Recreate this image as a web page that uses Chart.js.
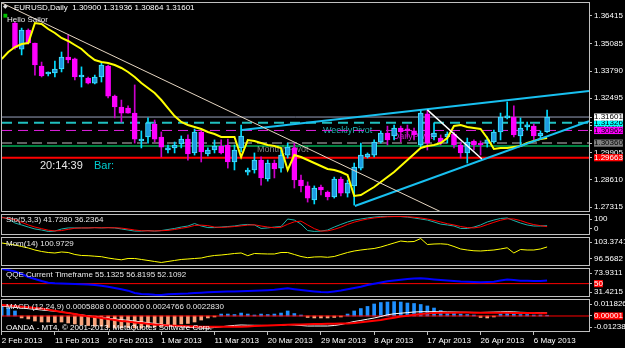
<!DOCTYPE html>
<html>
<head>
<meta charset="utf-8">
<script src="https://cdn.jsdelivr.net/npm/chart.js@4.4.1/dist/chart.umd.min.js"></script>
<style>
  html, body { margin: 0; padding: 0; background: #000; }
  #wrap { position: relative; width: 625px; height: 348px; background: #000; overflow: hidden; }
  #wrap canvas { position: absolute; left: 0; }
</style>
</head>
<body>
<div id="wrap">
  <canvas id="cMain" width="625" height="214" style="top:0px"></canvas>
  <canvas id="cSto" width="625" height="23" style="top:213px"></canvas>
  <canvas id="cMom" width="625" height="31" style="top:236px"></canvas>
  <canvas id="cQqe" width="625" height="31" style="top:267px"></canvas>
  <canvas id="cMacd" width="625" height="50" style="top:298px"></canvas>
</div>
<script>
// date axis (one tick every 8 daily bars)
const dateLabels = ['2 Feb 2013', '11 Feb 2013', '20 Feb 2013', '1 Mar 2013', '11 Mar 2013', '20 Mar 2013',
  '29 Mar 2013', '8 Apr 2013', '17 Apr 2013', '26 Apr 2013', '6 May 2013'];
const dateTickIdx = [0, 8, 16, 24, 32, 40, 48, 56, 64, 72, 80];

// EURUSD daily candles, bar 0 .. 82
const opens = [null, null, 1.3608, 1.3484, 1.3575, 1.3513, 1.3403, 1.3365, 1.3370, 1.3389,
  1.3446, 1.3437, 1.3351, 1.3346, 1.3322, 1.3351, 1.3403, 1.3260, 1.3208, 1.3203,
  1.3179, 1.3046, 1.3065, 1.3127, 1.3065, 1.3003, 1.3013, 1.3032, 1.3055, 1.2989,
  1.3089, 1.2984, 1.3003, 1.3022, 1.3027, 1.2946, 1.3013, 1.2898, 1.2908, 1.2955,
  1.2865, 1.2941, 1.2917, 1.2979, 1.3013, 1.2860, 1.2832, 1.2765, 1.2827, 1.2803,
  1.2779, 1.2865, 1.2798, 1.2832, 1.2917, 1.2970, 1.2979, 1.3041, 1.3084, 1.3070,
  1.3108, 1.3103, 1.3094, 1.3027, 1.3175, 1.3065, 1.3060, 1.3065, 1.3079, 1.3027,
  1.2989, 1.3046, 1.3036, 1.3036, 1.3041, 1.3089, 1.3156, 1.3160, 1.3070, 1.3113,
  1.3117, 1.3070, 1.30900];
const highs = [null, null, 1.3613, 1.3584, 1.3580, 1.3513, 1.3422, 1.3375, 1.3427, 1.3470,
  1.3551, 1.3441, 1.3399, 1.3351, 1.3360, 1.3418, 1.3408, 1.3265, 1.3241, 1.3213,
  1.3313, 1.3094, 1.3156, 1.3146, 1.3089, 1.3027, 1.3041, 1.3070, 1.3075, 1.3103,
  1.3094, 1.3013, 1.3051, 1.3051, 1.3055, 1.3027, 1.3122, 1.2917, 1.2989, 1.2970,
  1.2955, 1.2955, 1.3003, 1.3036, 1.3036, 1.2884, 1.2851, 1.2832, 1.2836, 1.2808,
  1.2874, 1.2874, 1.2860, 1.2941, 1.3036, 1.2989, 1.3051, 1.3094, 1.3117, 1.3122,
  1.3117, 1.3122, 1.3108, 1.3194, 1.3194, 1.3132, 1.3075, 1.3089, 1.3089, 1.3041,
  1.3060, 1.3051, 1.3046, 1.3065, 1.3098, 1.3179, 1.3232, 1.3213, 1.3156, 1.3136,
  1.3127, 1.3094, 1.31936];
const lows = [null, null, 1.3484, 1.3456, 1.3508, 1.3360, 1.3351, 1.3356, 1.3351, 1.3375,
  1.3418, 1.3337, 1.3303, 1.3318, 1.3318, 1.3327, 1.3251, 1.3156, 1.3136, 1.3179,
  1.3036, 1.3013, 1.3036, 1.3041, 1.2970, 1.2989, 1.2989, 1.3013, 1.2955, 1.2979,
  1.2946, 1.2975, 1.2989, 1.2984, 1.2917, 1.2908, 1.2994, 1.2884, 1.2893, 1.2836,
  1.2855, 1.2870, 1.2898, 1.2965, 1.2822, 1.2803, 1.2755, 1.2746, 1.2789, 1.2765,
  1.2774, 1.2784, 1.2779, 1.2741, 1.2908, 1.2965, 1.2970, 1.3036, 1.3027, 1.3051,
  1.3041, 1.3065, 1.3051, 1.3017, 1.3003, 1.3051, 1.3027, 1.3036, 1.3013, 1.2965,
  1.2941, 1.3003, 1.2979, 1.3017, 1.3036, 1.3051, 1.3151, 1.3065, 1.3027, 1.3098,
  1.3051, 1.3060, 1.30864];
const closes = [null, null, 1.3489, 1.3575, 1.3513, 1.3408, 1.3356, 1.3370, 1.3389, 1.3446,
  1.3432, 1.3351, 1.3356, 1.3322, 1.3351, 1.3408, 1.3260, 1.3208, 1.3179, 1.3179,
  1.3055, 1.3055, 1.3132, 1.3055, 1.3017, 1.3013, 1.3027, 1.3055, 1.2984, 1.3089,
  1.2994, 1.3003, 1.3022, 1.2989, 1.2946, 1.3003, 1.3070, 1.2908, 1.2955, 1.2870,
  1.2941, 1.2913, 1.2979, 1.3017, 1.2860, 1.2832, 1.2774, 1.2822, 1.2813, 1.2779,
  1.2865, 1.2798, 1.2846, 1.2922, 1.2979, 1.2984, 1.3041, 1.3084, 1.3051, 1.3108,
  1.3089, 1.3094, 1.3075, 1.3179, 1.3036, 1.3084, 1.3041, 1.3079, 1.3027, 1.2989,
  1.3041, 1.3027, 1.3027, 1.3051, 1.3089, 1.3160, 1.3160, 1.3075, 1.3108, 1.3122,
  1.3070, 1.3084, 1.31601];

// yellow moving average
const maLine = [1.34366, 1.34700, 1.34938, 1.35081, 1.35128, 1.36081, 1.36034, 1.35795, 1.35605, 1.35367,
  1.35224, 1.35033, 1.34842, 1.34557, 1.34318, 1.34223, 1.34176, 1.34080, 1.33937, 1.33747,
  1.33509, 1.33223, 1.32984, 1.32746, 1.32413, 1.32031, 1.31650, 1.31364, 1.31222, 1.31126,
  1.31031, 1.30888, 1.30793, 1.30650, 1.30650, 1.30650, 1.29697, 1.30507, 1.30459, 1.30364,
  1.30269, 1.30221, 1.30126, 1.29078, 1.29793, 1.29697, 1.29554, 1.29411, 1.29268, 1.29125,
  1.29078, 1.28982, 1.28840, 1.27839, 1.27887, 1.28077, 1.28268, 1.28506, 1.28744, 1.28982,
  1.29268, 1.29554, 1.29840, 1.30126, 1.30221, 1.30269, 1.30364, 1.30602, 1.31174, 1.31222,
  1.31126, 1.31079, 1.31031, 1.30602, 1.30078, 1.30126, 1.30126, 1.30173, 1.30221, 1.30364,
  1.30459, 1.30555, 1.30602];

// horizontal levels: bid, weekly pivot, daily pivot, monthly pivot, green, red
const levelPrices = [1.31601, 1.31326, 1.30962, 1.30360, 1.30221, 1.29663];
// price scale ticks and the boxed level labels
const priceTicks = [1.36415, 1.35085, 1.33790, 1.32495, 1.31200, 1.29905, 1.28610, 1.27315];
const boxedPrices = [1.29663, 1.30360, 1.30962, 1.31326, 1.31601];

// trend lines as [bar, price] pairs
const trendDown = [[0, 1.3704], [66, 1.2709]];
const trendPullback = [[64, 1.3194], [72.2, 1.2960]];
const channelTop = [[36.1, 1.3098], [88.3, 1.3284]];
const channelBottom = [[53.1, 1.2736], [88.3, 1.3140]];

// Stochastic (5,3,3)
const stochMain = [91, 80, 57, 46, 34, 23, 17, 9, 11, 23, 29, 29, 29, 29, 31, 29, 31, 29, 23, 17,
  11, 11, 14, 11, 14, 20, 26, 34, 40, 54, 40, 31, 31, 34, 37, 40, 46, 49, 46, 26,
  29, 34, 37, 80, 74, 51, 14, 9, 11, 17, 34, 49, 63, 74, 80, 86, 91, 94, 94, 94,
  94, 91, 86, 80, 74, 63, 51, 46, 40, 26, 26, 34, 46, 63, 74, 83, 86, 71, 57, 46,
  40, 40, 41.728];
const stochSignal = [88, 84, 76, 61, 46, 34, 25, 16, 12, 14, 21, 27, 29, 29, 30, 30, 30, 30, 28, 23,
  17, 13, 12, 12, 13, 15, 20, 27, 33, 43, 45, 42, 34, 32, 34, 37, 41, 45, 47, 40,
  34, 30, 33, 50, 64, 68, 46, 25, 11, 12, 21, 33, 49, 62, 72, 80, 86, 90, 93, 94,
  94, 93, 90, 86, 80, 72, 63, 53, 46, 37, 31, 29, 35, 48, 61, 73, 81, 80, 71, 58,
  48, 42, 36.2364];
const stochAxisLabels = ['100', '0'];

// Momentum (14)
const momentum = [102.10, 101.81, 101.53, 101.10, 100.68, 100.11, 99.69, 99.40, 99.26, 99.55,
  99.40, 98.84, 98.55, 98.50, 98.35, 98.21, 97.84, 97.56, 97.33, 97.70,
  97.70, 97.42, 97.14, 96.85, 96.57, 96.85, 97.14, 97.42, 97.56, 97.70,
  97.84, 98.27, 98.55, 98.69, 98.89, 99.12, 99.26, 98.50, 99.12, 99.04,
  98.98, 98.98, 99.40, 99.40, 98.84, 98.27, 97.93, 98.13, 98.18, 98.04,
  98.27, 98.84, 99.40, 99.83, 100.11, 100.34, 100.54, 100.96, 101.53, 102.10,
  102.66, 102.44, 102.52, 103.37, 101.67, 101.81, 101.87, 101.73, 101.11, 100.40,
  100.11, 99.89, 99.83, 99.97, 100.11, 100.40, 100.74, 99.26, 100.25, 100.11,
  100.11, 100.40, 100.9729];
const momAxisLabels = ['103.3741', '96.5682'];

// QQE
const qqe = [73.9, 72.3, 69.8, 65.8, 60.8, 57.6, 54.3, 51.5, 50.7, 50.2,
  49.7, 49.4, 48.9, 48.4, 47.8, 46.5, 45.0, 43.0, 40.7, 38.5,
  34.7, 32.9, 32.7, 31.9, 31.4, 32.7, 33.0, 33.4, 33.9, 34.7,
  35.2, 35.8, 36.3, 36.6, 37.0, 37.3, 37.5, 37.9, 38.3, 38.8,
  39.3, 39.9, 41.2, 42.4, 40.9, 39.6, 38.3, 37.2, 36.3, 35.8,
  37.2, 38.8, 40.8, 42.9, 45.0, 47.8, 49.9, 51.9, 53.8, 55.0,
  56.3, 57.6, 58.2, 58.7, 57.9, 56.9, 55.9, 55.0, 54.3, 53.5,
  53.0, 52.7, 52.2, 52.7, 53.0, 55.1, 56.9, 55.9, 54.8, 54.6,
  54.3, 54.3, 55.1325];
const qqeLevel = 50;
const qqeAxisLabels = ['73.9311', '50', '31.4215'];

// MACD (12,24,9)
const macdHist = [0.0090, 0.0065, 0.0041, -0.0016, -0.0024, -0.0041, -0.0049, -0.0049, -0.0053, -0.0049,
  -0.0057, -0.0065, -0.0073, -0.0078, -0.0082, -0.0082, -0.0094, -0.0098, -0.0098, -0.0094,
  -0.0098, -0.0098, -0.0090, -0.0090, -0.0086, -0.0078, -0.0073, -0.0065, -0.0061, -0.0049,
  -0.0033, -0.0016, -0.0008, 0.0016, 0.0016, 0.0012, 0.0024, 0.0016, 0.0008, 0.0016,
  0.0012, 0.0016, 0.0024, 0.0041, 0.0020, 0.0008, -0.0012, -0.0016, -0.0016, -0.0016,
  -0.0012, -0.0008, 0.0016, 0.0041, 0.0061, 0.0078, 0.0098, 0.0110, 0.0114, 0.0117,
  0.0114, 0.0106, 0.0102, 0.0094, 0.0082, 0.0065, 0.0045, 0.0029, 0.0024, 0.0016,
  0.0012, 0.0008, -0.0012, -0.0016, -0.0008, 0.0016, 0.0024, 0.0016, 0.0012, 0.0012,
  0.0008, 0.0008, 0.00058];
const macdMain = [0.00816, 0.00759, 0.00702, 0.00653, 0.00596, 0.00547, 0.00490, 0.00441, 0.00392, 0.00335,
  0.00253, 0.00163, 0.00090, 0.00016, -0.00049, -0.00122, -0.00180, -0.00245, -0.00302, -0.00359,
  -0.00416, -0.00481, -0.00547, -0.00612, -0.00677, -0.00751, -0.00816, -0.00881, -0.00914, -0.00947,
  -0.00979, -0.01004, -0.00938, -0.00881, -0.00816, -0.00767, -0.00734, -0.00751, -0.00759, -0.00767,
  -0.00775, -0.00775, -0.00767, -0.00694, -0.00734, -0.00775, -0.00816, -0.00816, -0.00816, -0.00816,
  -0.00775, -0.00694, -0.00571, -0.00449, -0.00359, -0.00261, -0.00163, -0.00041, 0.00098, 0.00180,
  0.00228, 0.00277, 0.00326, 0.00351, 0.00351, 0.00351, 0.00351, 0.00335, 0.00326, 0.00310,
  0.00302, 0.00294, 0.00286, 0.00302, 0.00318, 0.00335, 0.00351, 0.00335, 0.00302, 0.00286,
  0.00269, 0.00253, 0.0024766];
const macdSignal = [0.00898, 0.00849, 0.00808, 0.00759, 0.00710, 0.00661, 0.00604, 0.00514, 0.00424, 0.00335,
  0.00245, 0.00155, 0.00065, -0.00016, -0.00090, -0.00163, -0.00245, -0.00326, -0.00400, -0.00457,
  -0.00522, -0.00579, -0.00628, -0.00685, -0.00734, -0.00767, -0.00792, -0.00816, -0.00840, -0.00857,
  -0.00873, -0.00873, -0.00873, -0.00873, -0.00873, -0.00873, -0.00873, -0.00849, -0.00824, -0.00800,
  -0.00775, -0.00751, -0.00734, -0.00718, -0.00702, -0.00694, -0.00677, -0.00661, -0.00653, -0.00636,
  -0.00628, -0.00612, -0.00604, -0.00579, -0.00514, -0.00449, -0.00384, -0.00318, -0.00228, -0.00139,
  -0.00049, 0.00024, 0.00098, 0.00163, 0.00204, 0.00237, 0.00269, 0.0027, 0.0027, 0.0028,
  0.0028, 0.0027, 0.0027, 0.0026, 0.0026, 0.0026, 0.0026, 0.0025, 0.0025, 0.0024,
  0.0024, 0.0023, 0.002283];
const macdLevel = 0.00001;
const macdAxisLabels = ['0.011826', '0.00001', '-0.012388'];

// ---------------------------------------------------------------
Chart.defaults.animation = false;
Chart.defaults.font.family = '"Liberation Sans", Arial, sans-serif';
Chart.defaults.font.size = 8;
Chart.defaults.color = '#ffffff';
Chart.defaults.elements.point.radius = 0;
Chart.defaults.elements.point.hitRadius = 0;
Chart.defaults.elements.line.tension = 0;

const X_MIN = 0.05, X_MAX = 88.3;
const FONT = '"Liberation Sans", Arial, sans-serif';

const series = arr => arr.map((v, i) => ({ x: i, y: v }));
const seg = pts => pts.map(p => ({ x: p[0], y: p[1] }));
const hLine = v => [{ x: X_MIN, y: v }, { x: X_MAX, y: v }];
const isBull = i => closes[i] >= opens[i];

// text overlay (labels drawn by MetaTrader objects), kept out of the options resolver
function paintTexts(chart, items) {
  const { ctx, chartArea: a, scales } = chart;
  items.forEach(t => {
    const x = t.at ? scales.x.getPixelForValue(t.at[0]) : a.left + t.dx;
    const y = t.at ? scales.y.getPixelForValue(t.at[1]) : a.top + t.dy;
    ctx.save();
    ctx.font = t.font || ('8px ' + FONT);
    ctx.fillStyle = t.color || '#ffffff';
    ctx.textAlign = 'left';
    ctx.textBaseline = 'middle';
    ctx.fillText(t.text, x, y);
    ctx.restore();
  });
}
function textLayer(items) {
  return {
    id: 'mtText',
    beforeDatasetsDraw(chart) { paintTexts(chart, items.filter(t => t.back)); },
    afterDatasetsDraw(chart) { paintTexts(chart, items.filter(t => !t.back)); }
  };
}
const frame = {
  id: 'frame',
  afterDraw(chart) {
    const { ctx, chartArea: a } = chart;
    ctx.save();
    ctx.strokeStyle = '#c0c0c0';
    ctx.lineWidth = 1;
    ctx.strokeRect(a.left - 0.5, a.top + 0.5, a.right - a.left + 1, a.bottom - a.top - 1);
    ctx.restore();
  }
};

function xAxis(show) {
  const cfg = {
    type: 'linear', min: X_MIN, max: X_MAX, offset: false, display: show,
    grid: { drawOnChartArea: false, offset: false, tickLength: 3, color: '#c0c0c0' },
    border: { display: false },
    ticks: { autoSkip: false, maxRotation: 0, align: 'start', padding: 1, color: '#ffffff',
      callback: (v, i) => dateLabels[i] }
  };
  if (show) {
    cfg.afterBuildTicks = s => { s.ticks = dateTickIdx.map(v => ({ value: v })); };
    cfg.afterFit = s => { s.height = 16; s.paddingLeft = 0; s.paddingRight = 0; };
  }
  return cfg;
}

function yAxis(min, max, values, texts, boxes) {
  return {
    type: 'linear', position: 'right', min: min, max: max,
    grid: { drawOnChartArea: false, tickLength: 3, color: '#c0c0c0' },
    border: { display: false },
    afterBuildTicks: s => { s.ticks = values.map(v => ({ value: v })); },
    afterFit: s => { s.width = 36; s.paddingTop = 0; s.paddingBottom = 0; },
    ticks: {
      autoSkip: false, padding: 2,
      font: { size: 8, lineHeight: 0.9 },
      callback: (v, i) => texts[i],
      color: c => boxes[c.index] ? boxes[c.index].fg : '#ffffff',
      showLabelBackdrop: c => !!boxes[c.index],
      backdropColor: c => boxes[c.index] ? boxes[c.index].bg : 'rgba(0,0,0,0)',
      backdropPadding: c => (boxes[c.index] && boxes[c.index].tight)
        ? { left: 1, right: 1, top: 0, bottom: 0 } : { left: 3, right: 8, top: 0, bottom: 0 }
    }
  };
}

function options(pad, showX, yCfg) {
  return {
    responsive: false, animation: false, events: [], devicePixelRatio: 1,
    layout: { padding: pad },
    scales: { x: xAxis(showX), y: yCfg },
    plugins: { legend: { display: false }, tooltip: { enabled: false } }
  };
}

function lineSet(data, color, width, order, dash) {
  return { type: 'line', data: data, borderColor: color, borderWidth: width, borderDash: dash || [],
    pointRadius: 0, fill: false, order: order };
}

// ---------------- main price panel ----------------
const candleIdx = opens.map((o, i) => i).filter(i => opens[i] !== null);
const levelStyles = [
  { color: '#98a2bc', width: 1, dash: [] },
  { color: '#20c0c0', width: 2, dash: [10, 6] },
  { color: '#e020e0', width: 1, dash: [10, 6] },
  { color: '#606060', width: 2, dash: [10, 5] },
  { color: '#00ff80', width: 1, dash: [] },
  { color: '#ff0000', width: 2, dash: [] }
];
const boxStyle = { 1.29663: { bg: '#ff0000', fg: '#ffffff' }, 1.30360: { bg: '#808080', fg: '#000000' },
  1.30962: { bg: '#ff00ff', fg: '#000000' }, 1.31326: { bg: '#00ffff', fg: '#000000' },
  1.31601: { bg: '#ffffff', fg: '#000000' } };
const priceBoxes = {};
boxedPrices.forEach((p, k) => { priceBoxes[priceTicks.length + k] = boxStyle[p]; });
const mainTickValues = priceTicks.concat(boxedPrices);

new Chart(document.getElementById('cMain'), {
  type: 'bar',
  data: {
    datasets: levelPrices.map((p, k) => lineSet(hLine(p), levelStyles[k].color, levelStyles[k].width, 5, levelStyles[k].dash))
      .concat([
        { label: 'wick', data: candleIdx.map(i => ({ x: i, y: [lows[i], highs[i]] })),
          barThickness: 1, grouped: false, borderWidth: 0, minBarLength: 1, order: 3,
          backgroundColor: c => isBull(c.raw.x) ? '#00dcff' : '#cc00cc' },
        { label: 'body', data: candleIdx.map(i => ({ x: i, y: [opens[i], closes[i]] })),
          barThickness: 5, grouped: false, borderWidth: 1, borderSkipped: false, minBarLength: 2, order: 2,
          backgroundColor: c => isBull(c.raw.x) ? '#1e9be0' : '#ff00ff',
          borderColor: c => isBull(c.raw.x) ? '#40e4ff' : '#ff00ff' },
        lineSet(series(maLine), '#ffff00', 2, 1),
        lineSet(seg(trendDown), '#e6d6c2', 1, 0),
        lineSet(seg(trendPullback), '#ffffff', 1.5, 0),
        lineSet(seg(channelTop), '#18c0f0', 2, 0),
        lineSet(seg(channelBottom), '#18c0f0', 2, 0)
      ])
  },
  options: options({ left: 2, top: 2, bottom: 2, right: 0 }, false,
    yAxis(1.27077, 1.37082, mainTickValues, mainTickValues.map(v => v.toFixed(5)), priceBoxes)),
  plugins: [textLayer([
    { text: 'WeeklyPivot', at: [48.3, 1.3098], color: '#22b4b4', font: '9px ' + FONT, back: true },
    { text: 'DailyPivot', at: [58.8, 1.3067], color: '#d020d0', font: '9px ' + FONT, back: true },
    { text: 'MonthlyPivot', at: [38.4, 1.3005], color: '#808080', font: '9px ' + FONT, back: true },
    { text: '\u25C6', dx: 1, dy: 4, color: '#e0e0e0', font: '6px "DejaVu Sans"' },
    { text: 'EURUSD,Daily  1.30900 1.31936 1.30864 1.31601', dx: 12, dy: 6, color: '#ffffff' },
    { text: '\u25A0', dx: 1, dy: 14, color: '#00c000', font: '5px "DejaVu Sans"' },
    { text: 'Hello Sailor', dx: 5, dy: 18, color: '#e8e8e8' },
    { text: '20:14:39', dx: 38, dy: 164, color: '#e8e8e8', font: '11px ' + FONT },
    { text: 'Bar:', dx: 92, dy: 164, color: '#00ced1', font: '11px ' + FONT }
  ]), frame]
});

// ---------------- Stochastic ----------------
new Chart(document.getElementById('cSto'), {
  type: 'line',
  data: { datasets: [
    lineSet(series(stochSignal), '#ff0000', 1, 0),
    lineSet(series(stochMain), '#20b2aa', 1, 1)
  ] },
  options: options({ left: 2, top: 1, bottom: 1, right: 0 }, false,
    yAxis(-11.4, 108.6, [80, 26], stochAxisLabels, {})),
  plugins: [textLayer([{ text: 'Sto(5,3,3) 41.7280 36.2364', dx: 4, dy: 6, color: '#e8e8e8' }]), frame]
});

// ---------------- Momentum ----------------
new Chart(document.getElementById('cMom'), {
  type: 'line',
  data: { datasets: [lineSet(series(momentum), '#ffff00', 1, 0)] },
  options: options({ left: 2, top: 1, bottom: 1, right: 0 }, false,
    yAxis(95.57, 103.80, [102.38, 97.56], momAxisLabels, {})),
  plugins: [textLayer([{ text: 'Mom(14) 100.9729', dx: 4, dy: 7, color: '#e8e8e8' }]), frame]
});

// ---------------- QQE ----------------
new Chart(document.getElementById('cQqe'), {
  type: 'line',
  data: { datasets: [
    lineSet(hLine(qqeLevel), '#ff0000', 1, 1),
    lineSet(series(qqe), '#0000ff', 2, 0)
  ] },
  options: options({ left: 2, top: 1, bottom: 1, right: 0 }, false,
    yAxis(28.15, 75.57, [67.39, 50, 36.3], qqeAxisLabels, { 1: { bg: '#ff0000', fg: '#ffffff', tight: true } })),
  plugins: [textLayer([{ text: 'QQE Current Timeframe 55.1325 56.8195 52.1092', dx: 4, dy: 7, color: '#e8e8e8' }]), frame]
});

// ---------------- MACD ----------------
new Chart(document.getElementById('cMacd'), {
  type: 'bar',
  data: { datasets: [
    { label: 'hist', data: series(macdHist), barThickness: 3, grouped: false, borderWidth: 0, order: 3,
      backgroundColor: c => c.raw.y >= 0 ? '#1e90ff' : '#f8a47c' },
    lineSet(hLine(macdLevel), '#ff0000', 1, 2),
    lineSet(series(macdMain), '#ffffff', 1, 1),
    lineSet(series(macdSignal), '#ff0000', 2, 0)
  ] },
  options: options({ left: 2, top: 1, bottom: 0, right: 0 }, true,
    yAxis(-0.013056, 0.013872, [0.00979, 0.00001, -0.00898], macdAxisLabels, { 1: { bg: '#ff0000', fg: '#ffffff' } })),
  plugins: [textLayer([
    { text: 'MACD (12,24,9) 0.0005808 0.0000000 0.0024766 0.0022830', dx: 4, dy: 7.5, color: '#e8e8e8' },
    { text: 'OANDA - MT4, \u00A9 2001-2013, MetaQuotes Software Corp.', dx: 4, dy: 29, color: '#ffffff' }
  ]), frame]
});
</script>
</body>
</html>
